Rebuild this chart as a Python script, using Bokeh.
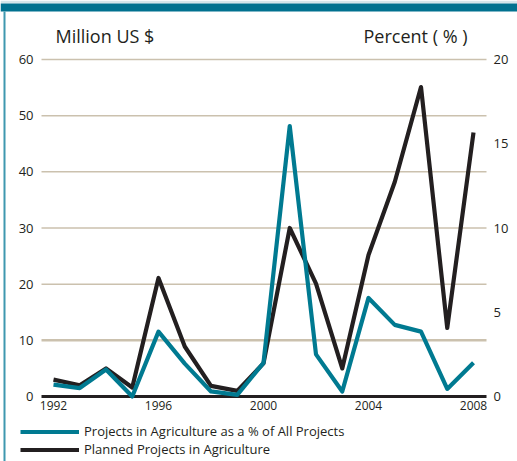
from bokeh.plotting import figure
from bokeh.models import (Range1d, Legend, LegendItem, ColumnDataSource, BoxAnnotation)
from bokeh.core.properties import value
from bokeh.embed import file_html
from bokeh.resources import INLINE

# ---- data ----
years = list(range(1992, 2009))
planned_musd = [3.0, 2.0, 5.0, 1.6, 21.1, 8.9, 1.9, 1.0, 5.9, 30.0, 20.1,
                5.0, 25.2, 38.2, 55.1, 12.2, 47.0]
agri_pct = [0.7, 0.5, 1.6, 0.0, 3.85, 1.95, 0.3, 0.1, 2.0, 16.05, 2.5,
            0.3, 5.85, 4.25, 3.85, 0.45, 2.0]
year_ticks = [1992, 1996, 2000, 2004, 2008]
left_ticks = [0, 10, 20, 30, 40, 50, 60]
right_ticks = [0, 5, 10, 15, 20]
grid_ticks = [20, 30, 40, 50, 60]
strong_grid_ticks = [10]
headings = ["Million US $", "Percent ( % )"]
series_names = ["Projects in Agriculture as a % of All Projects",
                "Planned Projects in Agriculture"]

TEAL = "#007a91"
BAND = "#00718f"
BLACK = "#231f20"
GRID = "#cbc1ae"
FONT = "Open Sans"

W, H = 517, 461
PX_YEAR = 26.25            # pixels per year
PX_UNIT = 337 / 60         # pixels per million US$
X0 = 1992 - 53 / PX_YEAR   # year at the canvas' left edge
Y0 = -(H - 396) / PX_UNIT  # value at the canvas' bottom edge


def xd(px):   # layout helper: canvas x pixel -> x data
    return X0 + px / PX_YEAR


def yd(py):   # layout helper: canvas y pixel (from top) -> left-axis data
    return (396 - py) / PX_UNIT


p = figure(width=W, height=H, output_backend="svg", toolbar_location=None,
           x_range=Range1d(X0, xd(W)), y_range=Range1d(Y0, yd(0)),
           x_axis_location=None, y_axis_location=None,
           min_border=0, min_border_left=0, min_border_right=0,
           min_border_top=0, min_border_bottom=0,
           background_fill_color="white", border_fill_color="white")
p.outline_line_color = None
p.grid.visible = False
p.extra_y_ranges = {"pct": Range1d(Y0 / 3, yd(0) / 3)}

# frame decoration: top band and left edge
p.add_layout(BoxAnnotation(bottom=yd(3), fill_color="#d3e5ea", fill_alpha=1,
                           line_alpha=0, level="underlay"))
p.add_layout(BoxAnnotation(top=yd(3), bottom=yd(11), fill_color=BAND, fill_alpha=1,
                           line_alpha=0, level="underlay"))
p.add_layout(BoxAnnotation(left=xd(3), right=xd(5), top=yd(11), fill_color="#3f98af",
                           fill_alpha=1, line_alpha=0, level="underlay"))

# grid lines and zero line (through the left scale)
gx0, gx1 = xd(41), xd(486)
p.segment(x0=gx0, x1=gx1, y0=grid_ticks, y1=grid_ticks, line_color=GRID,
          line_width=1.5)
p.segment(x0=gx0, x1=gx1, y0=strong_grid_ticks, y1=strong_grid_ticks,
          line_color=GRID, line_width=2.5)
p.segment(x0=gx0, x1=gx1, y0=[0], y1=[0], line_color=BLACK, line_width=3)

# tick labels
p.text(x=[xd(33)] * len(left_ticks), y=left_ticks, text=[str(t) for t in left_ticks],
       text_align="right", text_baseline="middle", text_font=value(FONT),
       text_font_size="13px", text_color=BLACK)
p.text(x=[xd(493)] * len(right_ticks), y=right_ticks,
       text=[str(t) for t in right_ticks], y_range_name="pct",
       text_align="left", text_baseline="middle", text_font=value(FONT),
       text_font_size="13px", text_color=BLACK)
p.text(x=year_ticks, y=[yd(400)] * len(year_ticks), text=[str(t) for t in year_ticks],
       text_align="center", text_baseline="top", text_font=value(FONT),
       text_font_size="12px", text_color=BLACK)

# headings
p.text(x=[xd(55), xd(363)], y=[yd(35), yd(35)], text=headings,
       text_align="left", text_baseline="alphabetic", text_font=value(FONT),
       text_font_size="18px", text_color=BLACK)

# series
src = ColumnDataSource(dict(year=years, planned=planned_musd, pct=agri_pct))
r_black = p.line("year", "planned", source=src, line_color=BLACK, line_width=4.2,
                 line_join="round")
r_teal = p.line("year", "pct", source=src, y_range_name="pct", line_color=TEAL,
                line_width=4.2, line_join="round")

# legend
legend = Legend(items=[LegendItem(label=series_names[0], renderers=[r_teal]),
                       LegendItem(label=series_names[1], renderers=[r_black])],
                location=(20, 3), orientation="vertical",
                glyph_width=59, glyph_height=17, label_height=17, label_standoff=5,
                spacing=0, padding=0, margin=0,
                label_text_font=FONT, label_text_font_size="13px",
                label_text_color=BLACK, background_fill_alpha=0,
                border_line_alpha=0)
p.add_layout(legend, "center")

open("out.html", "w").write(file_html(p, INLINE))
